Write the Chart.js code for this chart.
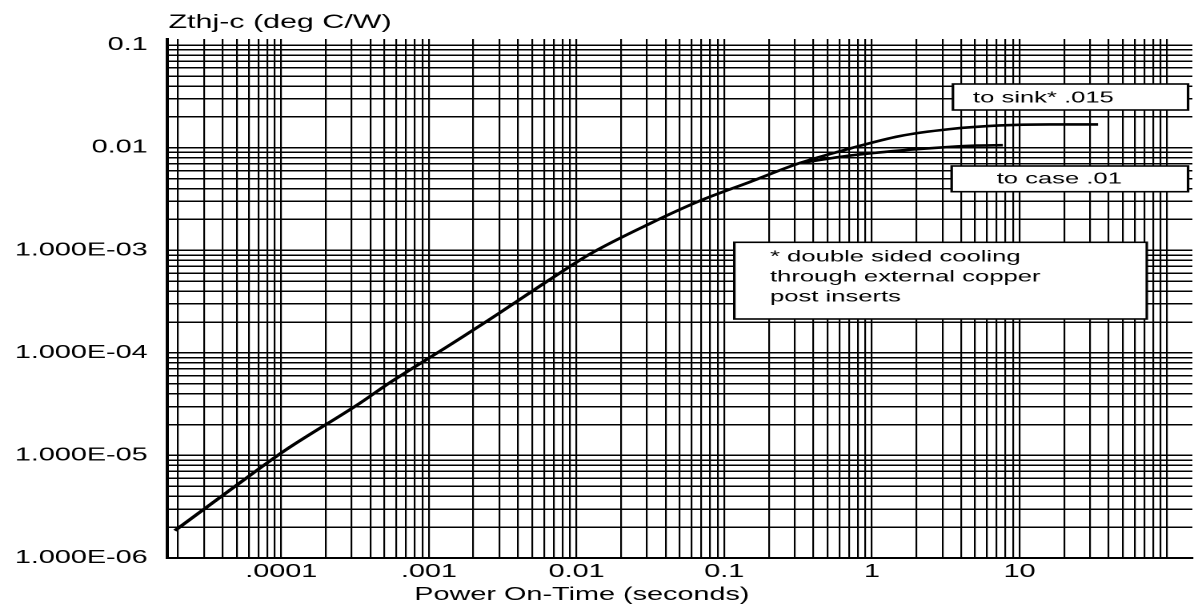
<!DOCTYPE html>
<html>
<head>
<meta charset="utf-8">
<title>Zthj-c vs Power On-Time</title>
<script src="https://cdn.jsdelivr.net/npm/chart.js@4.4.1/dist/chart.umd.min.js"></script>
<style>
  html, body { margin: 0; padding: 0; background: #fff; overflow: hidden; }
  /* the original scan is stretched wide, so the whole chart is drawn narrow and widened */
  #wrap { position: absolute; left: 0; top: 0; width: 746px; height: 611px;
          transform: scaleX(1.6005); transform-origin: 0 0; }
</style>
</head>
<body>
<div id="wrap"><canvas id="cvs" width="746" height="611"></canvas></div>
<script>
// curve shared by both cooling cases (seconds, deg C/W)
const commonT = [1.9e-5, 5.0e-5, 1.03e-4, 3.4e-4, 5.4e-4, 1.38e-3, 3.0e-3, 6.6e-3, 1.23e-2, 3.1e-2, 6.8e-2, 0.149, 0.325];
const commonZ = [1.85e-6, 5.15e-6, 1.09e-5, 3.23e-5, 5.1e-5, 1.19e-4, 2.45e-4, 5.2e-4, 9.2e-4, 1.81e-3, 3.03e-3, 4.64e-3, 7.1e-3];
// branch "to sink* .015"
const sinkT = [0.71, 1.54, 3.36, 7.3, 16, 34];
const sinkZ = [9.84e-3, 1.30e-2, 1.52e-2, 1.65e-2, 1.69e-2, 1.69e-2];
// branch "to case .01"
const caseT = [0.71, 1.54, 3.36, 5.1, 7.7];
const caseZ = [8.4e-3, 9.4e-3, 1.02e-2, 1.05e-2, 1.06e-2];

const xTickValues = [1e-4, 1e-3, 1e-2, 1e-1, 1, 10];
const xTickLabels = ['.0001', '.001', '0.01', '0.1', '1', '10'];
const yTickValues = [1e-1, 1e-2, 1e-3, 1e-4, 1e-5, 1e-6];
const yTickLabels = ['0.1', '0.01', '1.000E-03', '1.000E-04', '1.000E-05', '1.000E-06'];

const xTitle = 'Power On-Time (seconds)';
const yTitle = 'Zthj-c (deg C/W)';
const noteSink = 'to sink* .015';
const noteCase = 'to case .01';
const noteCooling = ['* double sided cooling', 'through external copper', 'post inserts'];

const FONT = '"Liberation Sans", Arial, sans-serif';

function pts(t, z) { return t.map((v, i) => ({x: v, y: z[i]})); }

// every 1..9 x 10^n line inside the range, like log paper
function logGrid(scale) {
    let out = [];
    let lo = Math.floor(Math.log10(scale.min)), hi = Math.ceil(Math.log10(scale.max));
    for (let e = lo; e <= hi; e++) {
        for (let k = 1; k < 10; k++) {
            let v = k * Math.pow(10, e);
            if (v >= scale.min * 0.9999 && v <= scale.max * 1.0001) out.push({value: v});
        }
    }
    scale.ticks = out;
}

function labelFor(values, labels) {
    return function(value) {
        let i = values.findIndex(tv => Math.abs(Math.log10(value / tv)) < 1e-6);
        return i >= 0 ? labels[i] : '';
    };
}

const notes = {
    id: 'notes',
    afterDraw(chart) {
        const ctx = chart.ctx, a = chart.chartArea;
        ctx.save();
        ctx.fillStyle = '#000';
        ctx.textBaseline = 'alphabetic';

        ctx.font = '19px ' + FONT;
        ctx.textAlign = 'left';
        ctx.fillText(yTitle, a.left + 1, 28);

        ctx.font = '18px ' + FONT;
        ctx.textAlign = 'center';
        ctx.fillText(xTitle, 363.6, 600);

        function box(x1, y1, x2, y2) {
            ctx.fillStyle = '#fff';
            ctx.fillRect(x1, y1, x2 - x1, y2 - y1);
            ctx.strokeStyle = '#000';
            ctx.lineWidth = 1.6;
            ctx.strokeRect(x1, y1, x2 - x1, y2 - y1);
            ctx.fillStyle = '#000';
        }
        ctx.font = '16px ' + FONT;
        ctx.textAlign = 'left';

        box(595.4, 84, 742.3, 110);
        ctx.fillText(noteSink, 607.9, 102.7);

        box(594.6, 166, 742.3, 191.7);
        ctx.fillText(noteCase, 622.7, 183.3);

        box(458.8, 242.3, 716.5, 319);
        noteCooling.forEach((s, i) => ctx.fillText(s, 481.1, 261.7 + i * 20));

        ctx.restore();
    }
};

const lastCommon = {x: commonT[commonT.length - 1], y: commonZ[commonZ.length - 1]};

new Chart(document.getElementById('cvs'), {
    type: 'scatter',
    data: {
        datasets: [{
            label: 'to sink',
            data: pts(commonT, commonZ).concat(pts(sinkT, sinkZ)),
            showLine: true,
            borderColor: '#000',
            borderWidth: 2.6,
            pointRadius: 0,
            cubicInterpolationMode: 'monotone'
        }, {
            label: 'to case',
            data: [lastCommon].concat(pts(caseT, caseZ)),
            showLine: true,
            borderColor: '#000',
            borderWidth: 2.6,
            pointRadius: 0,
            cubicInterpolationMode: 'monotone'
        }]
    },
    options: {
        responsive: false,
        devicePixelRatio: 2,
        animation: false,
        layout: { padding: { top: 39, right: 1, left: 0, bottom: 0 } },
        plugins: { legend: { display: false }, tooltip: { enabled: false } },
        scales: {
            x: {
                type: 'logarithmic',
                min: 1.68e-5,
                max: 148,
                afterBuildTicks: logGrid,
                afterFit: s => { s.height = 53; },
                grid: { color: '#000', lineWidth: 1.1, drawTicks: false },
                border: { color: '#000', width: 2 },
                ticks: {
                    autoSkip: false, maxRotation: 0, padding: 3,
                    color: '#000', font: { family: FONT, size: 18 },
                    callback: labelFor(xTickValues, xTickLabels)
                }
            },
            y: {
                type: 'logarithmic',
                min: 1e-6,
                max: 0.115,
                afterBuildTicks: logGrid,
                afterFit: s => { s.width = 104.3; },
                grid: { color: '#000', lineWidth: 1.5, drawTicks: false },
                border: { color: '#000', width: 2 },
                ticks: {
                    autoSkip: false, padding: 12,
                    color: '#000', font: { family: FONT, size: 18 },
                    callback: labelFor(yTickValues, yTickLabels)
                }
            }
        }
    },
    plugins: [notes]
});
</script>
</body>
</html>
